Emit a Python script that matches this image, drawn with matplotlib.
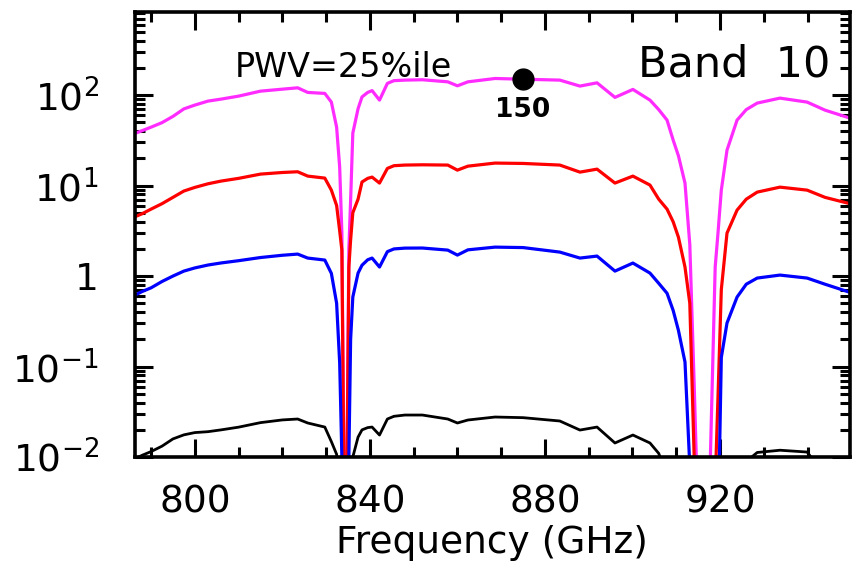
import matplotlib
matplotlib.use('Agg')
import matplotlib.pyplot as plt
import matplotlib.ticker as mticker
import numpy as np

# frequency grid (GHz) shared by the four curves
freq = [786.3, 788.0, 790.0, 792.5, 795.0, 797.5, 800.0, 803.0, 806.0, 810.0,
        815.0, 820.0, 823.5, 825.8, 829.7, 831.2, 832.4, 833.1, 833.6, 834.4,
        835.2, 835.6, 836.1, 837.3, 838.2, 839.5, 840.5, 842.2, 844.0, 845.5,
        848.0, 852.0, 857.8, 860.0, 862.4, 868.6, 875.0, 883.4, 888.0, 891.9,
        896.0, 900.1, 904.0, 906.0, 907.9, 909.3, 910.5, 912.0, 913.1, 914.1,
        914.7, 916.4, 917.7, 918.9, 919.5, 920.3, 921.6, 923.9, 926.0, 928.5,
        933.7, 939.9, 944.0, 949.7]

# log10 of the plotted quantity for each curve
log_magenta = [1.577, 1.608, 1.646, 1.696, 1.765, 1.848, 1.890, 1.934, 1.956, 1.989,
               2.044, 2.066, 2.081, 2.030, 2.019, 1.923, 1.646, 1.204, 0.475, -4.0,
               0.30, 0.84, 1.58, 1.85, 1.98, 2.03, 2.05, 1.945, 2.13, 2.16,
               2.166, 2.17, 2.147, 2.103, 2.147, 2.184, 2.176, 2.166, 2.10, 2.136,
               1.975, 2.063, 1.945, 1.84, 1.724, 1.503, 1.33, 1.028, 0.35, -1.2,
               -2.2, -4.0, -2.2, 0.1, 0.45, 0.95, 1.392, 1.724, 1.84, 1.912,
               1.967, 1.923, 1.834, 1.746]

log_red = [0.655, 0.69, 0.74, 0.80, 0.87, 0.94, 0.98, 1.02, 1.05, 1.08,
           1.127, 1.145, 1.153, 1.105, 1.083, 0.95, 0.78, 0.5, 0.287, -4.0,
           0.1, 0.4, 0.7, 0.85, 1.04, 1.08, 1.094, 1.028, 1.19, 1.22,
           1.227, 1.23, 1.227, 1.171, 1.215, 1.249, 1.245, 1.227, 1.149, 1.182,
           1.028, 1.105, 1.006, 0.85, 0.74, 0.6, 0.43, 0.1, -0.3, -2.0,
           -3.0, -4.0, -3.5, -2.3, -1.4, -0.15, 0.475, 0.729, 0.85, 0.928,
           0.983, 0.95, 0.87, 0.80]

log_blue = [-0.21, -0.17, -0.13, -0.06, 0.0, 0.055, 0.09, 0.122, 0.145, 0.17,
            0.205, 0.23, 0.243, 0.199, 0.177, 0.03, -0.3, -0.96, -2.0, -4.0,
            -2.0, -0.7, -0.232, 0.033, 0.12, 0.18, 0.199, 0.1, 0.27, 0.3,
            0.309, 0.31, 0.287, 0.232, 0.29, 0.32, 0.315, 0.265, 0.199, 0.221,
            0.055, 0.144, 0.033, -0.08, -0.19, -0.38, -0.6, -0.95, -2.1, -4.0,
            -4.0, -4.0, -4.0, -4.0, -3.0, -0.9, -0.519, -0.232, -0.09, -0.022,
            0.011, -0.022, -0.09, -0.18]

log_black = [-2.02, -1.98, -1.94, -1.88, -1.80, -1.755, -1.73, -1.72, -1.70, -1.67,
             -1.62, -1.59, -1.58, -1.624, -1.669, -1.83, -1.97, -2.6, -4.0, -5.0,
             -4.0, -2.3, -2.0, -1.78, -1.70, -1.675, -1.669, -1.757, -1.58, -1.55,
             -1.536, -1.536, -1.58, -1.624, -1.591, -1.558, -1.565, -1.602, -1.702, -1.669,
             -1.845, -1.757, -1.845, -1.96, -2.2, -2.6, -3.0, -3.5, -4.0, -5.0,
             -5.0, -5.0, -5.0, -4.0, -3.5, -3.0, -2.6, -2.3, -2.05, -1.95,
             -1.925, -1.945, -2.2, -2.4]

marker_freq = 875.0
marker_val = 150

ytick_vals = [1e-2, 1e-1, 1, 1e1, 1e2]
ytick_labels = [r'$10^{-2}$', r'$10^{-1}$', '1', r'$10^{1}$', r'$10^{2}$']

plt.rcParams['font.family'] = 'DejaVu Sans'
plt.rcParams['mathtext.fontset'] = 'dejavusans'

fig = plt.figure(figsize=(8.59, 5.68), dpi=100)
ax = fig.add_axes([0.157, 0.1954, 0.8325, 0.7835])

f = np.array(freq)
ax.plot(f, 10**np.array(log_magenta), color='#ff2bff', lw=2.3)
ax.plot(f, 10**np.array(log_red), color='#ff0000', lw=2.3)
ax.plot(f, 10**np.array(log_blue), color='#0000ff', lw=2.3)
ax.plot(f, 10**np.array(log_black), color='black', lw=2.0)

ax.plot([marker_freq], [marker_val], 'o', color='black', ms=15)
ax.text(marker_freq, 57, str(marker_val), ha='center', va='baseline',
        fontsize=19, fontweight='bold')

ax.text(0.14, 0.854, 'PWV=25%ile', transform=ax.transAxes, fontsize=24, va='baseline')
ax.text(0.972, 0.854, 'Band  10', transform=ax.transAxes, fontsize=31,
        va='baseline', ha='right')

ax.set_yscale('log')
ax.set_xlim(786.3, 949.7)
ax.set_ylim(1e-2, 830)

ax.xaxis.set_major_locator(mticker.MultipleLocator(40))
ax.xaxis.set_minor_locator(mticker.MultipleLocator(10))
ax.yaxis.set_major_locator(mticker.FixedLocator(ytick_vals))
ax.yaxis.set_major_formatter(mticker.FixedFormatter(ytick_labels))
ax.yaxis.set_minor_locator(mticker.LogLocator(base=10, subs=np.arange(2, 10)))
ax.yaxis.set_minor_formatter(mticker.NullFormatter())

ax.tick_params(which='both', direction='in', top=True, right=True, width=2.2)
ax.tick_params(which='major', length=13, labelsize=27)
ax.tick_params(axis='x', which='major', pad=20)
ax.tick_params(axis='y', which='major', pad=26)
ax.tick_params(which='minor', length=7)
for s in ax.spines.values():
    s.set_linewidth(2.6)

ax.set_xlabel('Frequency (GHz)', fontsize=27, labelpad=3)

fig.savefig('out.png', dpi=100)
